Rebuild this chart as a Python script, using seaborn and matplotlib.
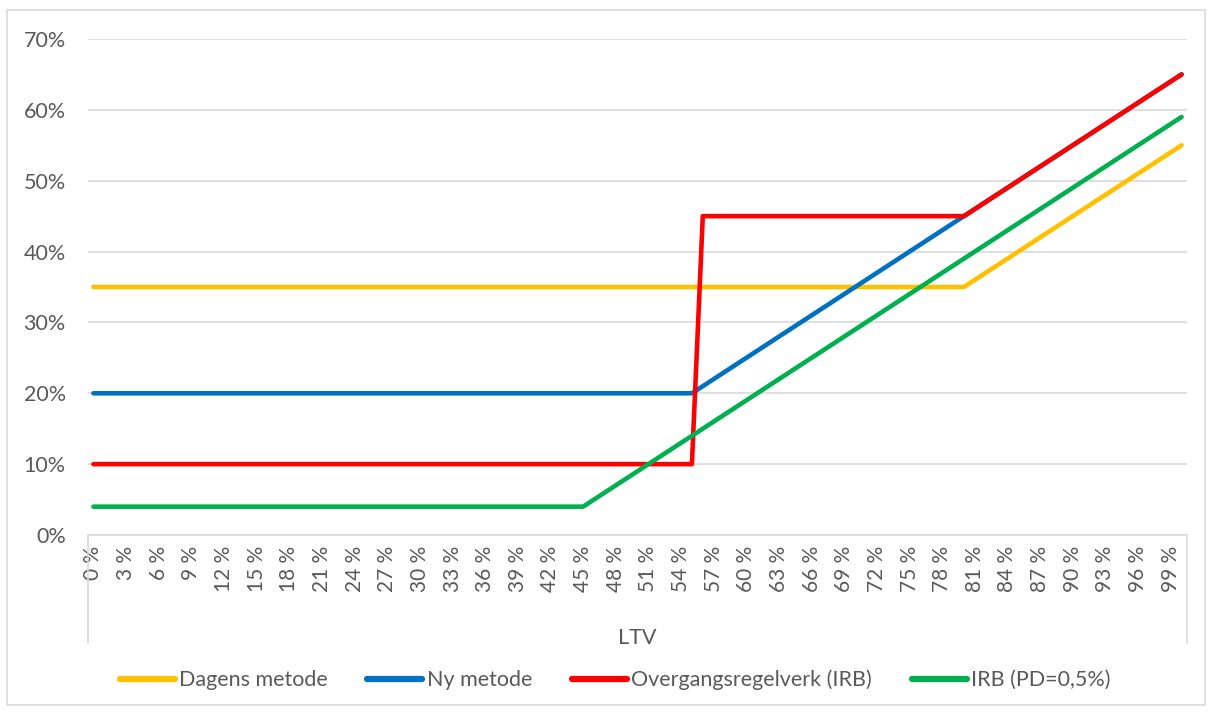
import numpy as np
import pandas as pd
import matplotlib.pyplot as plt
import seaborn as sns
from matplotlib.patches import Rectangle

# breakpoints of each series (LTV in %, weight in %)
ltv_dagens = [0, 80, 100]
dagens = [35, 35, 55]
ltv_ny = [0, 55, 100]
ny = [20, 20, 65]
ltv_overgang = [0, 55, 56, 80, 100]
overgang = [10, 10, 45, 45, 65]
ltv_irb = [0, 45, 100]
irb = [4, 4, 59]

series_names = ['Dagens metode', 'Ny metode', 'Overgangsregelverk (IRB)', 'IRB (PD=0,5%)']
colors = ['#FFC000', '#0070C0', '#FF0000', '#00B050']
tick_ltv = list(range(0, 100, 3))
tick_labels = [f'{v} %' for v in tick_ltv]
y_ticks = [0, 10, 20, 30, 40, 50, 60, 70]

frames = []
for name, xs, ys in zip(series_names,
                        [ltv_dagens, ltv_ny, ltv_overgang, ltv_irb],
                        [dagens, ny, overgang, irb]):
    frames.append(pd.DataFrame({'LTV': xs, 'verdi': np.array(ys) / 100, 'serie': name}))
df = pd.concat(frames, ignore_index=True)

sns.set_theme(style='white')
plt.rcParams['font.family'] = ['Lato', 'DejaVu Sans']
grey = '#595959'

fig = plt.figure(figsize=(12.12, 7.13), dpi=100)
ax = fig.add_axes([88 / 1212, 1 - 535 / 713, (1187 - 88) / 1212, (535 - 39) / 713])

sns.lineplot(data=df, x='LTV', y='verdi', hue='serie', hue_order=series_names,
             palette=colors, sort=False, linewidth=3.3, ax=ax, legend=True)
for ln in ax.get_lines():
    ln.set_solid_capstyle('round')
    ln.set_solid_joinstyle('round')

ax.set_xlim(-0.5, 100.5)
ax.set_ylim(0, 0.7)
ax.set_yticks([v / 100 for v in y_ticks])
ax.set_yticklabels([f'{v}%' for v in y_ticks], fontsize=15.5, color=grey)
ax.set_xticks(tick_ltv)
ax.set_xticklabels(tick_labels, rotation=90, fontsize=15, color=grey)
ax.tick_params(axis='x', length=0, pad=8)
ax.tick_params(axis='y', length=0, pad=16)
ax.yaxis.grid(True, color='#D9D9D9', linewidth=1.2)
ax.set_axisbelow(True)
for side in ['top', 'right', 'left']:
    ax.spines[side].set_visible(False)
ax.spines['bottom'].set_color('#D9D9D9')
ax.spines['bottom'].set_linewidth(1.2)

# box edges of the category axis
tr = ax.get_xaxis_transform()
for xv in [-0.5, 100.5]:
    ax.plot([xv, xv], [0, -0.218], transform=tr, color='#D9D9D9', lw=1.2, clip_on=False)

ax.set_xlabel('LTV', fontsize=15.5, color=grey, labelpad=0)
ax.xaxis.set_label_coords(0.5, -0.188)
ax.set_ylabel('')

handles, labels = ax.get_legend_handles_labels()
ax.get_legend().remove()
leg = fig.legend(handles, labels, loc='center', bbox_to_anchor=(615 / 1212, 1 - 680 / 713),
                 ncol=4, frameon=False, fontsize=15.5, handlelength=2.55, handletextpad=0.2,
                 columnspacing=1.85)
for t in leg.get_texts():
    t.set_color(grey)
for h in leg.get_lines():
    h.set_linewidth(4.5)
    h.set_solid_capstyle('round')

fig.patches.append(Rectangle((7 / 1212, 1 - 705 / 713), 1198 / 1212, 695 / 713,
                             transform=fig.transFigure, fill=False,
                             edgecolor='#D9D9D9', linewidth=1.2))

fig.savefig('out.png', dpi=100)
